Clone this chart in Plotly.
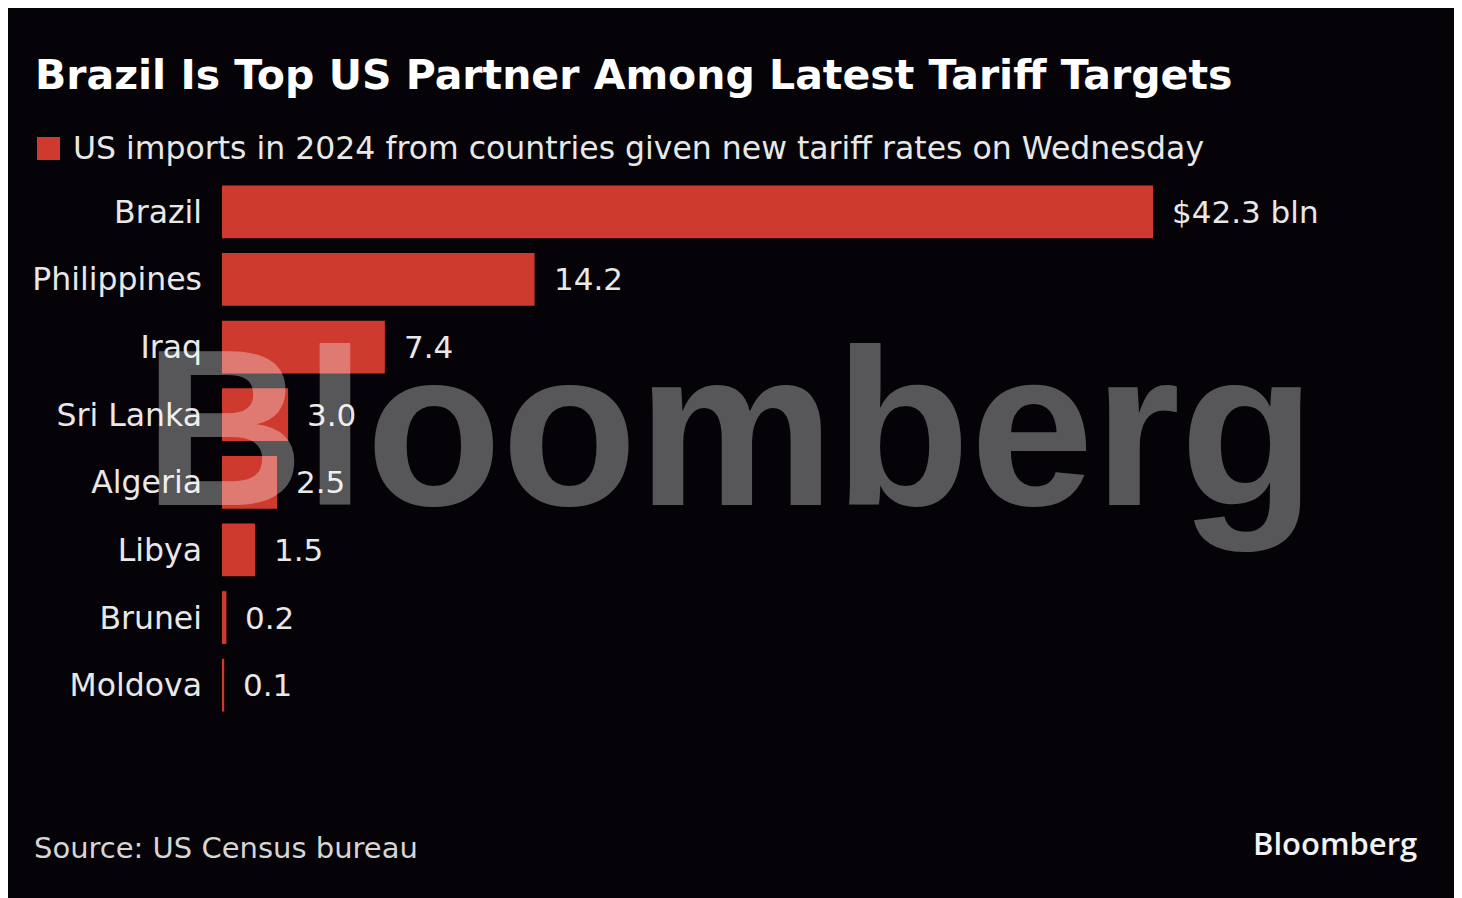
import plotly.graph_objects as go

# -----------------------------
# Data (US imports in 2024, $ bln)
# -----------------------------
countries = ["Brazil", "Philippines", "Iraq", "Sri Lanka", "Algeria", "Libya", "Brunei", "Moldova"]
imports_bln = [42.3, 14.2, 7.4, 3.0, 2.5, 1.5, 0.2, 0.1]
value_labels = ["$42.3 bln", "14.2", "7.4", "3.0", "2.5", "1.5", "0.2", "0.1"]

BG = "#050307"
RED = "#cf3a2f"
TXT = "#e8e8e8"
FONT = "DejaVu Sans"

fig = go.Figure()

fig.add_trace(
    go.Bar(
        x=imports_bln,
        y=countries,
        orientation="h",
        marker=dict(color=RED, line=dict(width=0)),
        width=0.78,
        hoverinfo="x+y",
        showlegend=False,
    )
)

# value labels just right of each bar
for c, v, lab in zip(countries, imports_bln, value_labels):
    fig.add_annotation(
        x=v, y=c, xref="x", yref="y",
        text=lab, showarrow=False,
        xanchor="left", yanchor="middle", xshift=17,
        font=dict(family=FONT, size=31, color=TXT),
    )

# page is drawn with an 8px offset, so pixel positions below are shifted
OFF = 8
W, H = 1462, 898
L, R, T, B = 222 - OFF, 22, 178 - OFF, 898 + OFF - 719


def px(x):
    return (x - OFF - L) / (W - L - R)


def py(y):
    return (H - (y - OFF) - B) / (H - T - B)


# -----------------------------
# Titles, legend key, source, logo
# -----------------------------
fig.add_annotation(
    x=px(33), y=py(75), xref="paper", yref="paper",
    text="Brazil Is Top US Partner Among Latest Tariff Targets",
    showarrow=False, xanchor="left", yanchor="middle",
    font=dict(family=FONT, size=41, color="#ffffff", weight="bold"),
)

fig.add_annotation(
    x=px(71), y=py(148), xref="paper", yref="paper",
    text="US imports in 2024 from countries given new tariff rates on Wednesday",
    showarrow=False, xanchor="left", yanchor="middle",
    font=dict(family=FONT, size=31.5, color=TXT),
)

fig.add_shape(
    type="rect", xref="paper", yref="paper",
    x0=px(37), x1=px(60), y0=py(160), y1=py(137),
    fillcolor=RED, line=dict(width=0),
)

fig.add_annotation(
    x=px(32), y=py(848), xref="paper", yref="paper", text="Source: US Census bureau",
    showarrow=False, xanchor="left", yanchor="middle",
    font=dict(family=FONT, size=29, color="#d6d6d6"),
)

fig.add_annotation(
    x=px(1419), y=py(843), xref="paper", yref="paper", text="Bloomberg",
    showarrow=False, xanchor="right", yanchor="middle",
    font=dict(family="Open Sans", size=31, color="#f2f2f2", weight=600),
)

# watermark
fig.add_annotation(
    x=px(730), y=py(428), xref="paper", yref="paper", text="Bloomberg",
    showarrow=False, xanchor="center", yanchor="middle",
    font=dict(family="Liberation Sans", size=222, color="rgba(255,255,255,0.33)", weight="bold"),
)

# -----------------------------
# Layout
# -----------------------------
fig.update_layout(
    width=W, height=H,
    paper_bgcolor=BG, plot_bgcolor=BG,
    margin=dict(l=L, r=R, t=T, b=B),
    font=dict(family=FONT, color=TXT),
)

fig.update_xaxes(
    range=[0, (W - L - R) / 22.01],
    showgrid=False, zeroline=False, showticklabels=False, showline=False,
)
fig.update_yaxes(
    autorange="reversed",
    showgrid=False, zeroline=False, showline=False,
    ticklabelstandoff=19,
    tickfont=dict(family=FONT, size=31.5, color=TXT),
)

fig.write_html("out.html")
